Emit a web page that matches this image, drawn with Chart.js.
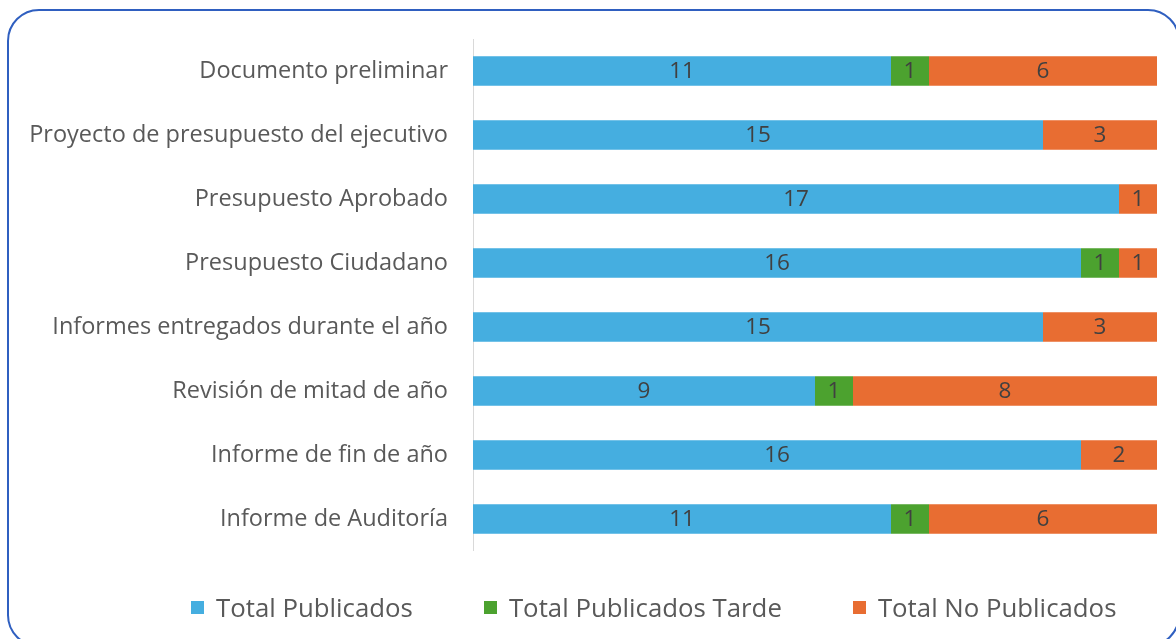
<!DOCTYPE html>
<html lang="es">
<head>
  <meta charset="UTF-8" />
  <title>Publicación de documentos presupuestarios</title>
  <script src="https://cdn.jsdelivr.net/npm/chart.js"></script>
  <style>
    body {
      margin: 0;
      width: 1176px;
      height: 639px;
      overflow: hidden;
      background: #fff;
      font-family: 'Open Sans', sans-serif;
      position: relative;
    }

    .frame {
      position: absolute;
      left: 7px;
      top: 9px;
      width: 1173px;
      height: 638px;
      border: 2px solid #2f5fc0;
      border-radius: 32px;
      box-sizing: border-box;
    }

    #grafico {
      position: absolute;
      left: 0;
      top: 0;
    }

    .legend {
      position: absolute;
      left: 191px;
      top: 589px;
      width: 985px;
      display: flex;
      align-items: center;
      font-size: 25.8px;
      color: #595959;
      white-space: nowrap;
    }

    .legend .item {
      display: flex;
      align-items: center;
      flex-shrink: 0;
      margin-right: 71px;
    }

    .legend .swatch {
      width: 13px;
      height: 13px;
      margin-right: 12px;
    }
  </style>
</head>
<body>

  <div class="frame"></div>
  <canvas id="grafico" width="1176" height="590"></canvas>
  <div class="legend" id="leyenda"></div>

  <script>
    const categorias = [
      'Documento preliminar',
      'Proyecto de presupuesto del ejecutivo',
      'Presupuesto Aprobado',
      'Presupuesto Ciudadano',
      'Informes entregados durante el año',
      'Revisión de mitad de año',
      'Informe de fin de año',
      'Informe de Auditoría'
    ];
    const publicados      = [11, 15, 17, 16, 15, 9, 16, 11];
    const publicadosTarde = [1, 0, 0, 1, 0, 1, 0, 1];
    const noPublicados    = [6, 3, 1, 1, 3, 8, 2, 6];

    const series = ['Total Publicados', 'Total Publicados Tarde', 'Total No Publicados'];
    const colores = ['#45aee0', '#4ca22f', '#e86d32'];

    // etiquetas de valor al centro de cada segmento
    const etiquetas = {
      id: 'etiquetas',
      afterDatasetsDraw(chart) {
        const ctx = chart.ctx;
        ctx.save();
        ctx.font = '22.5px "Open Sans", sans-serif';
        ctx.fillStyle = '#404040';
        ctx.textAlign = 'center';
        ctx.textBaseline = 'middle';
        chart.data.datasets.forEach((ds, i) => {
          chart.getDatasetMeta(i).data.forEach((bar, j) => {
            const v = ds.data[j];
            if (!v) return;
            const p = bar.getProps(['x', 'y', 'base'], true);
            ctx.fillText(String(v), (p.x + p.base) / 2, p.y + 1);
          });
        });
        ctx.restore();
      }
    };

    const ctx = document.getElementById('grafico').getContext('2d');
    const chart = new Chart(ctx, {
      type: 'bar',
      data: {
        labels: categorias,
        datasets: [publicados, publicadosTarde, noPublicados].map((d, i) => ({
          label: series[i],
          data: d,
          backgroundColor: colores[i],
          categoryPercentage: 1,
          barPercentage: 0.46
        }))
      },
      options: {
        indexAxis: 'y',
        responsive: false,
        animation: false,
        layout: { padding: { top: 38, bottom: 10, right: 19, left: 0 } },
        plugins: {
          legend: { display: false },
          tooltip: { enabled: false }
        },
        scales: {
          x: {
            stacked: true,
            min: 0,
            max: 18,
            display: false
          },
          y: {
            stacked: true,
            afterFit(scale) { scale.width = 473; },
            grid: { display: false, drawTicks: false },
            border: { display: true, color: '#d9d9d9', width: 1 },
            ticks: {
              padding: 25,
              color: '#595959',
              font: { family: 'Open Sans', size: 23.5 }
            }
          }
        }
      },
      plugins: [etiquetas]
    });

    // leyenda HTML con los colores de las series
    const leyenda = document.getElementById('leyenda');
    chart.data.datasets.forEach(ds => {
      const item = document.createElement('div');
      item.className = 'item';
      item.innerHTML = '<span class="swatch" style="background:' + ds.backgroundColor + '"></span>' + ds.label;
      leyenda.appendChild(item);
    });
  </script>
</body>
</html>
